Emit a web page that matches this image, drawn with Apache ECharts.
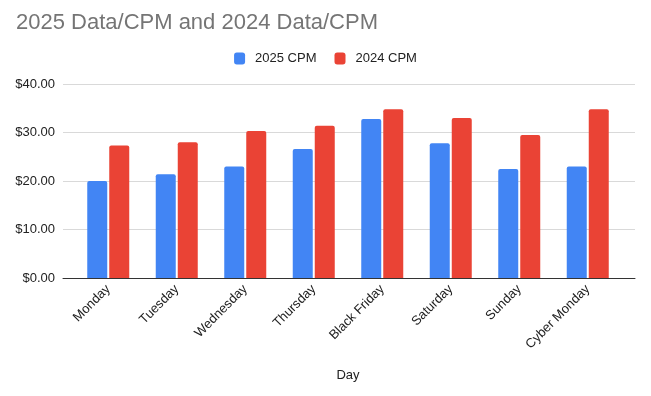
<!DOCTYPE html>
<html>
<head>
<meta charset="utf-8">
<script src="https://cdn.jsdelivr.net/npm/echarts@6/dist/echarts.min.js"></script>
<style>
  html, body { margin: 0; padding: 0; background: #fff; }
  #chart { width: 651px; height: 396px; }
</style>
</head>
<body>
<div id="chart"></div>
<script>
const days = ['Monday', 'Tuesday', 'Wednesday', 'Thursday', 'Black Friday', 'Saturday', 'Sunday', 'Cyber Monday']
const cpm2025 = [20.0, 21.4, 23.0, 26.6, 32.8, 27.8, 22.5, 23.0]
const cpm2024 = [27.3, 28.0, 30.3, 31.4, 34.8, 33.0, 29.5, 34.8]
const yTicks = [0, 10, 20, 30, 40]

const chart = echarts.init(document.getElementById('chart'))

const font = '"Liberation Sans", Arial, sans-serif'
const yMin = yTicks[0]
const yMax = yTicks[yTicks.length - 1]

// grid 0 draws gridlines, y labels and the baseline over the full width,
// grid 1 holds the bars (inset a little, like the original)
const option = {
  animation: false,
  title: {
    text: '2025 Data/CPM and 2024 Data/CPM',
    left: 16,
    top: 12,
    padding: 0,
    textStyle: {
      fontFamily: font,
      fontSize: 22,
      fontWeight: 'normal',
      color: '#757575',
    },
  },
  legend: {
    left: 'center',
    top: 52,
    padding: 0,
    itemWidth: 11,
    itemHeight: 12,
    itemGap: 18,
    icon: 'roundRect',
    textStyle: {
      fontFamily: font,
      fontSize: 13,
      color: '#222',
      padding: [0, 0, 0, 5],
    },
    data: ['2025 CPM', '2024 CPM'],
  },
  grid: [
    { left: 63, right: 16, top: 84, bottom: 118 },
    { left: 74, right: 29, top: 84, bottom: 118 },
  ],
  xAxis: [
    {
      gridIndex: 0,
      type: 'value',
      min: 0,
      max: 1,
      axisLine: { show: true, onZero: false, lineStyle: { color: '#333', width: 1 } },
      axisTick: { show: false },
      axisLabel: { show: false },
      splitLine: { show: false },
    },
    {
      gridIndex: 1,
      type: 'category',
      data: days,
      name: 'Day',
      nameLocation: 'middle',
      nameGap: 91,
      nameTextStyle: {
        fontFamily: font,
        fontSize: 13,
        color: '#222',
      },
      axisLine: { show: false },
      axisTick: { show: false },
      axisLabel: {
        rotate: 45,
        margin: 9,
        padding: [22, 0, 0, 0],
        fontFamily: font,
        fontSize: 13,
        color: '#222',
      },
    },
  ],
  yAxis: [
    {
      gridIndex: 0,
      type: 'value',
      min: yMin,
      max: yMax,
      interval: 10,
      axisLine: { show: false },
      axisTick: { show: false },
      splitLine: { lineStyle: { color: '#d9d9d9' } },
      axisLabel: {
        margin: 8,
        fontFamily: font,
        fontSize: 13,
        color: '#222',
        formatter: (v) => '$' + v.toFixed(2),
      },
    },
    {
      gridIndex: 1,
      type: 'value',
      min: yMin,
      max: yMax,
      interval: 10,
      axisLine: { show: false },
      axisTick: { show: false },
      axisLabel: { show: false },
      splitLine: { show: false },
    },
  ],
  series: [
    {
      name: '2025 CPM',
      type: 'bar',
      xAxisIndex: 1,
      yAxisIndex: 1,
      data: cpm2025,
      barWidth: 20,
      barGap: '10%',
      itemStyle: { color: '#4285f4', borderRadius: [2, 2, 0, 0] },
    },
    {
      name: '2024 CPM',
      type: 'bar',
      xAxisIndex: 1,
      yAxisIndex: 1,
      data: cpm2024,
      barWidth: 20,
      itemStyle: { color: '#ea4335', borderRadius: [2, 2, 0, 0] },
    },
  ],
}

chart.setOption(option)
</script>
</body>
</html>
